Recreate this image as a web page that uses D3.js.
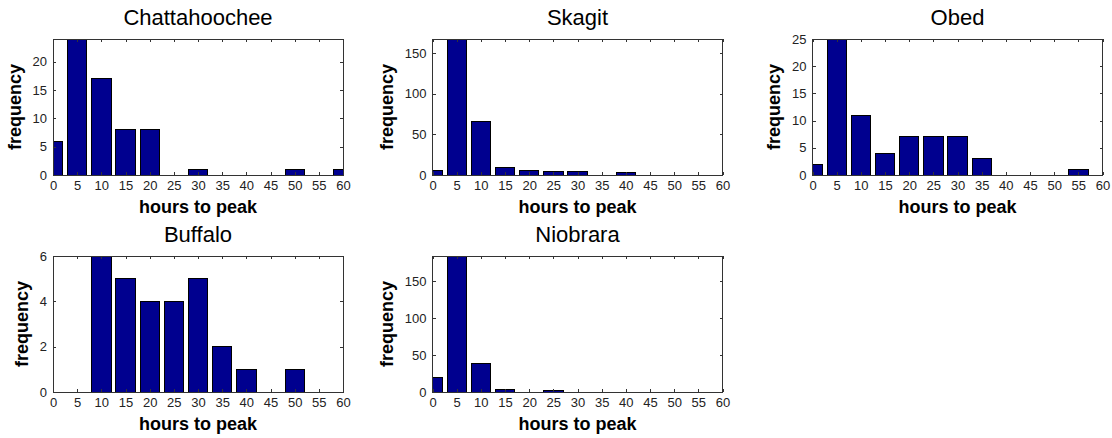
<!DOCTYPE html>
<html>
<head>
<meta charset="utf-8">
<script src="https://d3js.org/d3.v7.min.js"></script>
<style>
  body { margin: 0; background: #fff; }
  svg { display: block; }
  .tick text { font-family: "Liberation Sans", Arial, sans-serif; font-size: 13px; fill: #222; }
  .title { font-family: "Liberation Sans", Arial, sans-serif; font-size: 22px; }
  .label { font-family: "Liberation Sans", Arial, sans-serif; font-size: 18px; font-weight: bold; }
</style>
</head>
<body>
<svg id="chart"></svg>
<script>
// bins (hours to peak), one bar per bin
var binCenters = [0, 5, 10, 15, 20, 25, 30, 35, 40, 45, 50, 55, 60];
var xTickValues = [0, 5, 10, 15, 20, 25, 30, 35, 40, 45, 50, 55, 60];

var rivers = ["Chattahoochee", "Skagit", "Obed", "Buffalo", "Niobrara"];

var chattahoochee = [6, 24, 17, 8, 8, 0, 1, 0, 0, 0, 1, 0, 1];
var skagit = [6, 167, 66, 9, 5, 4, 4, 0, 3, 0, 0, 0, 0];
var obed = [2, 25, 11, 4, 7, 7, 7, 3, 0, 0, 0, 1, 0];
var buffalo = [0, 0, 6, 5, 4, 4, 5, 2, 1, 0, 1, 0, 0];
var niobrara = [20, 184, 39, 4, 0, 2, 0, 0, 0, 0, 0, 0, 0];

var chattahoocheeTicks = [0, 5, 10, 15, 20];
var skagitTicks = [0, 50, 100, 150];
var obedTicks = [0, 5, 10, 15, 20, 25];
var buffaloTicks = [0, 2, 4, 6];
var niobraraTicks = [0, 50, 100, 150];

var seriesList = [chattahoochee, skagit, obed, buffalo, niobrara];
var yTickList = [chattahoocheeTicks, skagitTicks, obedTicks, buffaloTicks, niobraraTicks];

var W = 1112, H = 438;
var panelW = 290, panelH = 136;
var colLeft = [53, 432.5, 812.5];
var rowTop = [39, 256];

var svg = d3.select("#chart").attr("width", W).attr("height", H);

rivers.forEach(function (name, i) {
  var values = seriesList[i];
  var left = colLeft[i % 3], top = rowTop[Math.floor(i / 3)];

  var x = d3.scaleLinear().domain([0, 60]).range([0, panelW]);
  var y = d3.scaleLinear().domain([0, d3.max(values)]).range([panelH, 0]);

  var g = svg.append("g").attr("transform", "translate(" + left + "," + top + ")");

  g.append("clipPath").attr("id", "clip" + i)
    .append("rect").attr("width", panelW).attr("height", panelH);

  // bars, width 0.8 of bin spacing
  g.append("g").attr("clip-path", "url(#clip" + i + ")")
    .selectAll("rect")
    .data(values.map(function (v, j) { return { x: binCenters[j], y: v }; }))
    .enter().append("rect")
    .attr("x", function (d) { return x(d.x - 2); })
    .attr("width", x(4) - x(0))
    .attr("y", function (d) { return y(d.y); })
    .attr("height", function (d) { return panelH - y(d.y); })
    .attr("fill", "#00008f")
    .attr("stroke", "#000")
    .attr("stroke-width", 1)
    .attr("shape-rendering", "crispEdges");

  // axes, ticks pointing inward like matlab
  var xAxis = d3.axisBottom(x).tickValues(xTickValues).tickSizeInner(-3).tickSizeOuter(0).tickPadding(6);
  var yAxis = d3.axisLeft(y).tickValues(yTickList[i]).tickFormat(d3.format("d"))
    .tickSizeInner(-3).tickSizeOuter(0).tickPadding(6);

  g.append("g").attr("transform", "translate(0," + panelH + ")").call(xAxis);
  var yg = g.append("g").call(yAxis);
  g.append("g").call(d3.axisTop(x).tickValues(xTickValues).tickSizeInner(-3).tickSizeOuter(0).tickFormat(""));
  g.append("g").attr("transform", "translate(" + panelW + ",0)")
    .call(d3.axisRight(y).tickValues(yTickList[i]).tickSizeInner(-3).tickSizeOuter(0).tickFormat(""));

  g.selectAll(".domain").remove();
  g.selectAll(".tick line").attr("stroke", "#333").attr("shape-rendering", "crispEdges");

  g.append("rect").attr("width", panelW).attr("height", panelH)
    .attr("fill", "none").attr("stroke", "#333").attr("shape-rendering", "crispEdges");

  g.append("text").attr("class", "title")
    .attr("x", panelW / 2).attr("y", -14)
    .attr("text-anchor", "middle").text(name);

  g.append("text").attr("class", "label")
    .attr("x", panelW / 2).attr("y", panelH + 38)
    .attr("text-anchor", "middle").text("hours to peak");

  // ylabel sits left of the widest tick label
  var tickW = d3.max(yg.selectAll(".tick text").nodes(), function (n) { return n.getBBox().width; });
  g.append("text").attr("class", "label")
    .attr("transform", "translate(" + (-(tickW + 18)) + "," + panelH / 2 + ") rotate(-90)")
    .attr("text-anchor", "middle").text("frequency");
});
</script>
</body>
</html>
